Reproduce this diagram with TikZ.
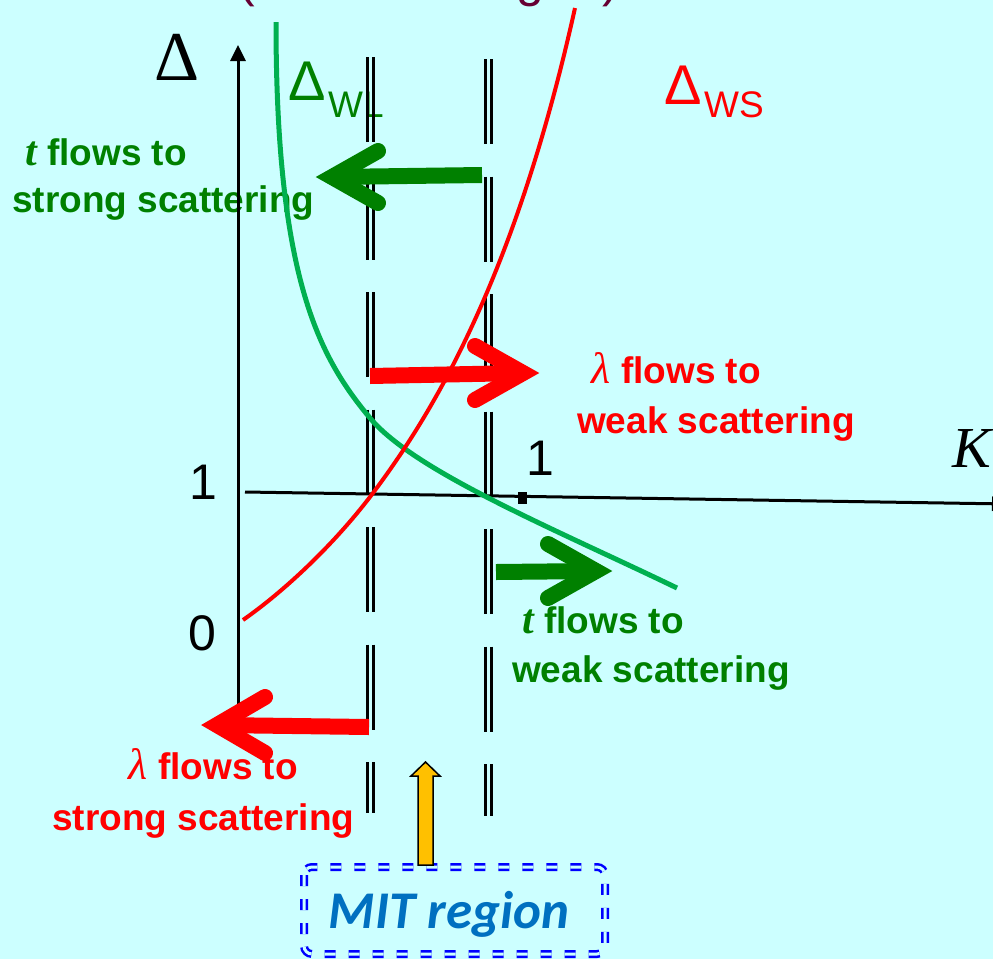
\documentclass[tikz,border=0pt]{standalone}
\usepackage{fontspec}
\setmainfont{Liberation Sans}
\newfontfamily\seriffam{Liberation Serif}
\newfontfamily\carlfam{Carlito}
\newcommand{\grkb}{\fontsize{42}{44}\selectfont\seriffam\itshape\bfseries}
\newcommand{\grkm}{\fontsize{44}{44}\selectfont\seriffam\itshape\mdseries}
\usetikzlibrary{arrows.meta,calc}
\definecolor{bgc}{RGB}{204,255,255}
\definecolor{curvegreen}{RGB}{0,176,80}
\definecolor{dkgreen}{RGB}{0,128,0}
\definecolor{myred}{RGB}{255,0,0}
\definecolor{mitblue}{RGB}{0,112,192}
\definecolor{boxblue}{RGB}{0,0,255}
\definecolor{myyellow}{RGB}{255,192,0}
\definecolor{maroon}{RGB}{102,0,51}
\begin{document}
\begin{tikzpicture}[x=1pt,y=-1pt,
  lbl/.style={font=\fontsize{37}{44}\selectfont\bfseries, inner sep=0pt},
  num/.style={font=\fontsize{50}{60}\selectfont, inner sep=0pt, anchor=base},
  dl/.style={line width=3pt, dash pattern=on 85pt off 32.5pt},
  shaft/.style={line width=16pt},
  chev/.style={line width=16pt, line cap=round, line join=miter},
  axisline/.style={line width=3pt, black}
]
\useasboundingbox (0,0) rectangle (993,959);
\fill[bgc] (0,0) rectangle (993,959);

% cut-off title fragments
\node[font=\fontsize{50}{60}\selectfont, text=maroon, inner sep=0pt, anchor=base] (tp1) at (247,-3.5) {(};
\node[font=\fontsize{50}{60}\selectfont, text=maroon, inner sep=0pt, anchor=base] (tp2) at (530,-3.5) {g};
\node[font=\fontsize{50}{60}\selectfont, text=maroon, inner sep=0pt, anchor=base] (tp3) at (611,-3.5) {)};

% texts
\node[lbl, text=dkgreen, anchor=base east] (tl1) at (187,165) {{\grkb t} flows to};
\node[lbl, text=dkgreen, anchor=base west] (tl2) at (12,212) {strong scattering};
\node[lbl, text=myred, anchor=base east] (tr1) at (761,383) {{\grkm λ} flows to};
\node[lbl, text=myred, anchor=base west] (tr2) at (577,433) {weak scattering};
\node[lbl, text=dkgreen, anchor=base east] (br1) at (684,633) {{\grkb t} flows to};
\node[lbl, text=dkgreen, anchor=base west] (br2) at (512,682) {weak scattering};
\node[lbl, text=myred, anchor=base east] (bl1) at (298,779) {{\grkm λ} flows to};
\node[lbl, text=myred, anchor=base west] (bl2) at (52,830) {strong scattering};

% axis labels
\node[font=\fontsize{70}{80}\selectfont\seriffam, inner sep=0pt, anchor=base west] (dlab) at (154,80) {Δ};
\node[font=\fontsize{58}{66}\selectfont\seriffam\itshape, inner sep=0pt, anchor=base west] (klab) at (952,467) {K};
\node[num] (one1) at (203,499) {1};
\node[num] (zero) at (202,650) {0};
\node[num] (one2) at (540,475) {1};

% curve labels
\node[font=\fontsize{56}{60}\selectfont, text=dkgreen, inner sep=0pt, anchor=base west] (dwl) at (288,100) {Δ};
\node[font=\fontsize{37}{40}\selectfont, text=dkgreen, inner sep=0pt, anchor=base west] (dwls) at (328,117) {WL};
\node[font=\fontsize{56}{60}\selectfont, text=myred, inner sep=0pt, anchor=base west] (dws) at (664,104) {Δ};
\node[font=\fontsize{37}{40}\selectfont, text=myred, inner sep=0pt, anchor=base west] (dwss) at (704,117) {WS};

% axes
\coordinate (org) at (238,705);
\coordinate (ytop) at (238,45);
\coordinate (xl) at (245,492);
\coordinate (xr) at (1008,504);
\draw[axisline, -{Triangle[length=16pt,width=15pt]}] (org) -- (ytop);
\draw[axisline, -{Triangle[length=16pt,width=14pt]}] (xl) -- (xr);
\fill[black] (518,492) rectangle (527,504);

% dashed double lines
\draw[dl] (367,57) -- (367,813);
\draw[dl] (373,57) -- (373,813);
\draw[dl] (485,59) -- (485,816);
\draw[dl] (491,59) -- (491,816);

% curves
\coordinate (gs) at (276,22);
\coordinate (gm) at (370,418);
\coordinate (ge) at (677,588);
\draw[curvegreen, line width=5pt] (gs) .. controls (276,280) and (320,358) .. (gm)
   .. controls (415,472) and (557,530) .. (ge);
\coordinate (rs) at (243,620);
\coordinate (rm) at (373,493);
\coordinate (re) at (575,8);
\draw[myred, line width=4pt] (rs) .. controls (283,592) and (333,546) .. (rm)
   .. controls (433,413) and (515,278) .. (re);

% flow arrows
\coordinate (ga0) at (482,175); \coordinate (ga1) at (332,177);
\draw[dkgreen, shaft] (ga0) -- (ga1);
\draw[dkgreen, chev] ($(ga1)+(46,-26)$) -- (ga1) -- ($(ga1)+(46,26)$);

\coordinate (ra0) at (370,376); \coordinate (ra1) at (523,373);
\draw[myred, shaft] (ra0) -- (ra1);
\draw[myred, chev] ($(ra1)+(-48,-27)$) -- (ra1) -- ($(ra1)+(-48,27)$);

\coordinate (gb0) at (496,572); \coordinate (gb1) at (596,571);
\draw[dkgreen, shaft] (gb0) -- (gb1);
\draw[dkgreen, chev] ($(gb1)+(-48,-27)$) -- (gb1) -- ($(gb1)+(-48,27)$);

\coordinate (rb0) at (369,727); \coordinate (rb1) at (217,725);
\draw[myred, shaft] (rb0) -- (rb1);
\draw[myred, chev] ($(rb1)+(48,-28)$) -- (rb1) -- ($(rb1)+(48,28)$);

% MIT region box
\draw[boxblue, line width=2.5pt, double=bgc, double distance=3pt, dash pattern=on 11pt off 13pt, rounded corners=8pt] (304,867) rectangle (605,954);
\node[font=\fontsize{53}{58}\selectfont\carlfam\bfseries\itshape, text=mitblue, inner sep=0pt, anchor=base] (mit) at (449,928) {MIT region};

% yellow arrow
\draw[fill=myyellow, line width=1.5pt, line join=miter] (418,865) -- (418,776) -- (411,776) -- (425.5,762) -- (440,776) -- (433,776) -- (433,865) -- cycle;
\end{tikzpicture}
\end{document}
